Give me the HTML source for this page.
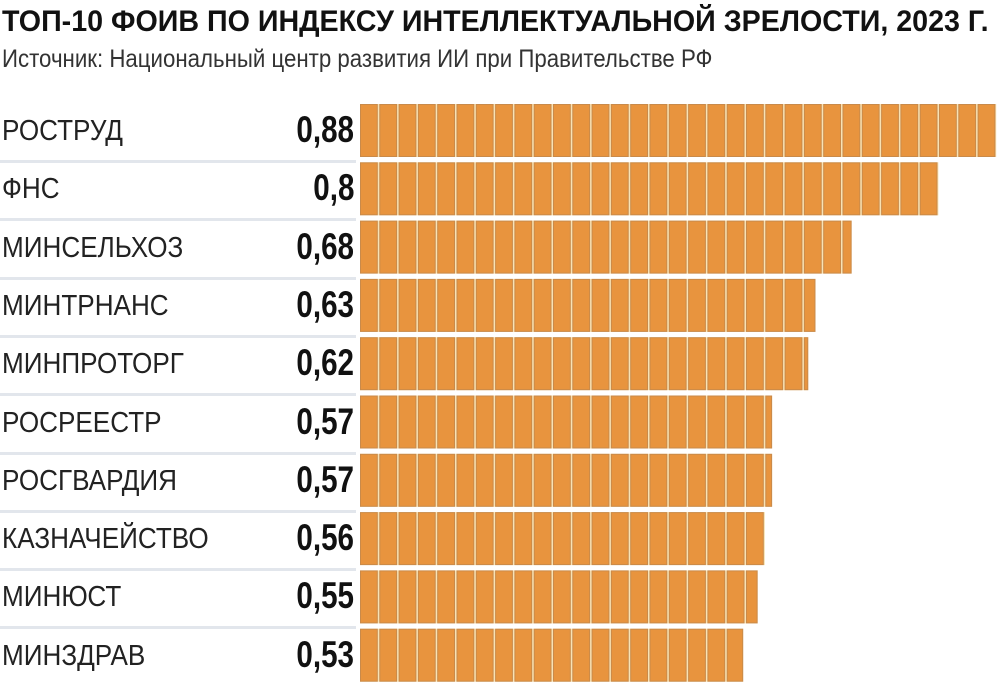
<!DOCTYPE html>
<html><head><meta charset="utf-8">
<style>
body{margin:0;background:#fff;width:1000px;height:686px;overflow:hidden;font-family:"Liberation Sans",sans-serif;}
#title{position:absolute;left:2px;top:5px;font-weight:bold;font-size:30px;white-space:nowrap;transform-origin:0 0;transform:scaleX(0.955);color:#111;}
#sub{position:absolute;left:2px;top:45px;font-size:25px;white-space:nowrap;transform-origin:0 0;transform:scaleX(0.89);color:#333;}
.lab{position:absolute;left:2px;font-size:29px;white-space:nowrap;transform-origin:0 0;transform:scaleX(0.9);color:#222;}
.val{position:absolute;right:646px;font-size:37px;font-weight:bold;white-space:nowrap;transform-origin:100% 0;transform:scaleX(0.8);color:#111;}
.sep{position:absolute;left:0;width:356px;height:3px;background:#e2e6ec;}
</style></head><body>
<div id="title">ТОП-10 ФОИВ ПО ИНДЕКСУ ИНТЕЛЛЕКТУАЛЬНОЙ ЗРЕЛОСТИ, 2023 Г.</div>
<div id="sub">Источник: Национальный центр развития ИИ при Правительстве РФ</div>
<div id="chart"></div>
<svg id="svg" width="1000" height="686" style="position:absolute;left:0;top:0"></svg>
<script>
const categories=["РОСТРУД","ФНС","МИНСЕЛЬХОЗ","МИНТРНАНС","МИНПРОТОРГ","РОСРЕЕСТР","РОСГВАРДИЯ","КАЗНАЧЕЙСТВО","МИНЮСТ","МИНЗДРАВ"];
const values=[0.88,0.8,0.68,0.63,0.62,0.57,0.57,0.56,0.55,0.53];
const valueLabels=["0,88","0,8","0,68","0,63","0,62","0,57","0,57","0,56","0,55","0,53"];
const x0=360, pxPerUnit=723, seg=19.3, rowTop=104, pitch=58.3, barH=53;
function xScale(v){return v*pxPerUnit;}
function yScale(i){return rowTop+i*pitch;}
const chart=document.getElementById('chart');
const svg=document.getElementById('svg');
const NS="http://www.w3.org/2000/svg";
categories.forEach((c,i)=>{
  const y=yScale(i);
  const l=document.createElement('div');
  l.className='lab';l.style.top=(y+11)+'px';l.textContent=c;
  
  
  chart.appendChild(l);
  const v=document.createElement('div');
  v.className='val';v.style.top=(y+5)+'px';v.textContent=valueLabels[i];
  
  
  chart.appendChild(v);
  if(i<categories.length-1){
    const s=document.createElement('div');
    s.className='sep';s.style.top=(y+56)+'px';
    
    
    chart.appendChild(s);
  }
  const w=xScale(values[i]);
  const g=document.createElementNS(NS,'g');
  
  
  const bg=document.createElementNS(NS,'rect');
  bg.setAttribute('x',x0);bg.setAttribute('y',y);bg.setAttribute('width',w);bg.setAttribute('height',barH);
  bg.setAttribute('fill','#f8e2b4');
  g.appendChild(bg);
  for(let sx=0;sx<w-1;sx+=seg){
    const sw=Math.min(seg-2.5,w-sx-1);
    const r=document.createElementNS(NS,'rect');
    r.setAttribute('x',x0+sx+0.5);r.setAttribute('y',y+0.5);
    r.setAttribute('width',Math.max(sw,1));r.setAttribute('height',barH-1);
    r.setAttribute('fill','#e8943e');r.setAttribute('stroke','#c98a4a');r.setAttribute('stroke-width','1');
    g.appendChild(r);
  }
  svg.appendChild(g);
});
</script>
</body></html>
